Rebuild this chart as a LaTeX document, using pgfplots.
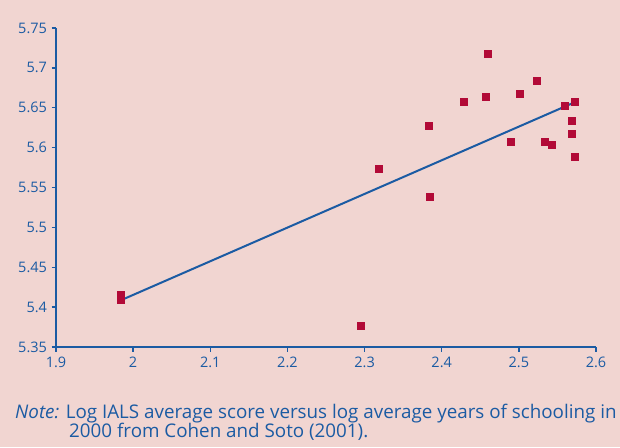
\documentclass[border=0pt]{standalone}
\usepackage{pgfplots}
\pgfplotsset{compat=1.18}
\usepackage{fontspec}
\setmainfont{Open Sans}
\definecolor{bg}{HTML}{F1D5D1}
\definecolor{ablue}{HTML}{1B5BA3}
\definecolor{mred}{HTML}{B20A37}
\begin{document}
\begin{tikzpicture}[x=1pt,y=1pt]
\fill[bg] (0,0) rectangle (620,447);
\path[use as bounding box] (0,0) rectangle (620,447);
\begin{axis}[
  at={(56pt,100pt)}, anchor=south west,
  scale only axis, width=540pt, height=319pt,
  xmin=1.9, xmax=2.6, ymin=5.35, ymax=5.75,
  axis lines=left, axis line style={-, ablue, line width=1.6pt},
  xtick={1.9,2,...,2.6}, ytick={5.35,5.4,...,5.75},
  tick style={ablue, line width=1.3pt},
  tick align=outside, major tick length=4.5pt,
  tick label style={font=\fontsize{14.5}{16}\selectfont, text=ablue},
  /pgf/number format/assume math mode=true,
  yticklabel style={/pgf/number format/fixed, /pgf/number format/precision=2, xshift=-1pt},
  xticklabel style={/pgf/number format/fixed, /pgf/number format/precision=1, yshift=-2pt},
  clip=false,
]
\addplot[ablue, line width=2pt] coordinates {(1.985,5.409) (2.575,5.658)};
\addplot[only marks, mark=square*, mark size=3.5pt, mark options={mred, draw=mred}] coordinates {
(1.984,5.415) (1.984,5.409) (2.2945,5.377) (2.459,5.718) (2.5227,5.684) (2.5006,5.668)
(2.4565,5.664) (2.428,5.657) (2.559,5.652) (2.573,5.657) (2.3826,5.627) (2.569,5.634)
(2.569,5.617) (2.490,5.607) (2.533,5.608) (2.542,5.604) (2.573,5.588) (2.318,5.574)
(2.384,5.538)
};
\end{axis}
\node[anchor=base west, text=ablue, font=\fontsize{18.8}{22}\selectfont, inner sep=0pt] at (15,29) {\textit{Note:} Log IALS average score versus log average years of schooling in};
\node[anchor=base west, text=ablue, font=\fontsize{18.8}{22}\selectfont, inner sep=0pt] at (69,10) {2000 from Cohen and Soto (2001).};
\end{tikzpicture}
\end{document}
